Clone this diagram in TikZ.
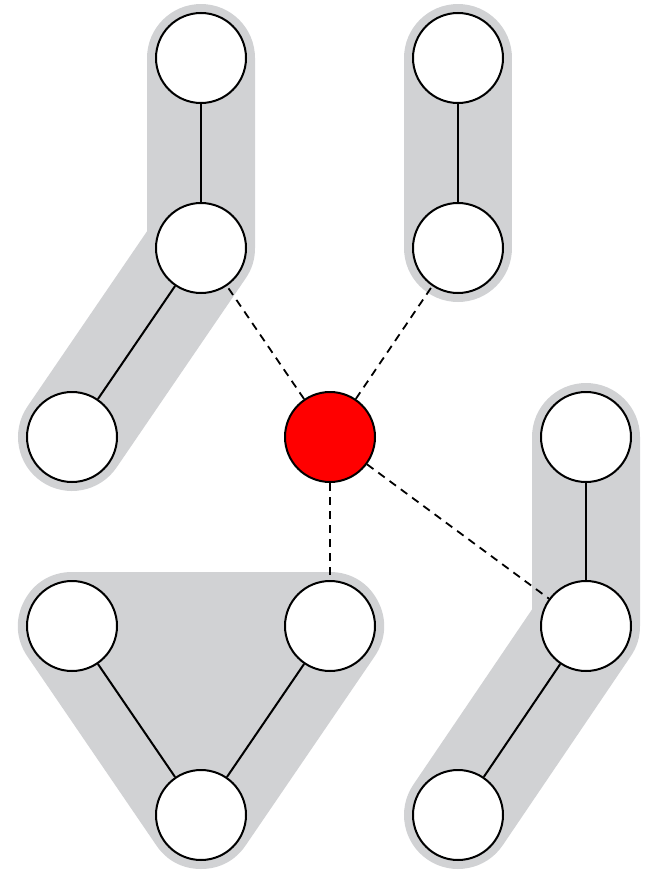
\documentclass[tikz,border=0pt]{standalone}
\definecolor{hull}{RGB}{209,210,212}
\tikzset{
  vert/.style={circle, draw=black, line width=2pt, fill=white, minimum size=90pt, inner sep=0pt},
  hub/.style={vert, fill=red},
  hullline/.style={draw=hull, line width=108pt, line cap=round, line join=round},
  edge/.style={draw=black, line width=2pt},
  link/.style={draw=black, line width=1.8pt, dash pattern=on 8pt off 6pt}
}
\begin{document}
\begin{tikzpicture}[x=1pt,y=-1pt]
\useasboundingbox (0,0) rectangle (648,870);
% coordinates
\coordinate (a1) at (201,58);
\coordinate (a2) at (201,248);
\coordinate (a3) at (72,437);
\coordinate (b1) at (458,58);
\coordinate (b2) at (458,248);
\coordinate (c1) at (586,437);
\coordinate (c2) at (586,626);
\coordinate (c3) at (458,815);
\coordinate (d1) at (72,626);
\coordinate (d2) at (330,626);
\coordinate (d3) at (201,815);
\coordinate (r) at (330,437);
% hulls
\draw[hullline] (a1) -- (a2) -- (a3);
\draw[hullline] (b1) -- (b2);
\draw[hullline] (c1) -- (c2) -- (c3);
\filldraw[hullline, fill=hull] (d1) -- (d2) -- (d3) -- cycle;
% nodes
\node[vert] (A1) at (a1) {};
\node[vert] (A2) at (a2) {};
\node[vert] (A3) at (a3) {};
\node[vert] (B1) at (b1) {};
\node[vert] (B2) at (b2) {};
\node[vert] (C1) at (c1) {};
\node[vert] (C2) at (c2) {};
\node[vert] (C3) at (c3) {};
\node[vert] (D1) at (d1) {};
\node[vert] (D2) at (d2) {};
\node[vert] (D3) at (d3) {};
\node[hub] (R) at (r) {};
% edges
\draw[edge] (A1) -- (A2);
\draw[edge] (A2) -- (A3);
\draw[edge] (B1) -- (B2);
\draw[edge] (C1) -- (C2);
\draw[edge] (C2) -- (C3);
\draw[edge] (D1) -- (D3);
\draw[edge] (D2) -- (D3);
% links
\draw[link] (R) -- (A2);
\draw[link] (R) -- (B2);
\draw[link] (R) -- (C2);
\draw[link] (R) -- (D2);
\end{tikzpicture}
\end{document}
